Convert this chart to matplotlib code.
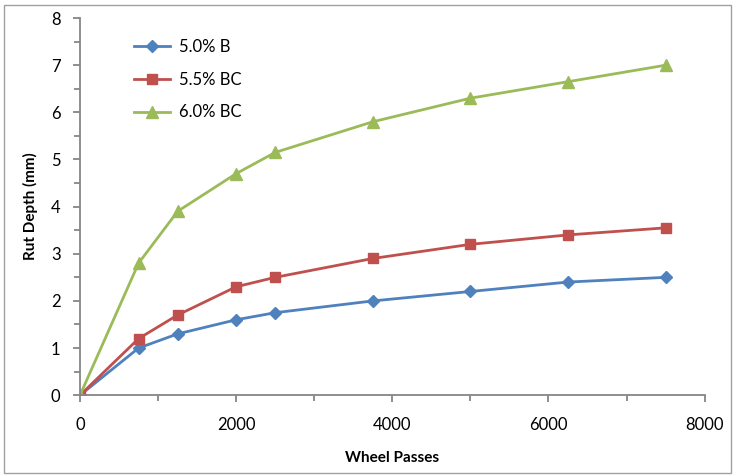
import numpy as np
import matplotlib.pyplot as plt
from matplotlib.patches import Rectangle
from matplotlib.ticker import MultipleLocator

plt.rcParams['font.family'] = ['Lato', 'DejaVu Sans']

passes = [0, 750, 1250, 2000, 2500, 3750, 5000, 6250, 7500]
rut_50b = [0, 1.0, 1.3, 1.6, 1.75, 2.0, 2.2, 2.4, 2.5]
rut_55bc = [0, 1.2, 1.7, 2.3, 2.5, 2.9, 3.2, 3.4, 3.55]
rut_60bc = [0, 2.8, 3.9, 4.7, 5.15, 5.8, 6.3, 6.65, 7.0]
labels = ['5.0% B', '5.5% BC', '6.0% BC']

fig = plt.figure(figsize=(7.34, 4.75), dpi=100)
ax = fig.add_axes([0.109, 0.168, 0.851, 0.794])

ax.plot(passes, rut_50b, color='#4F81BD', lw=2, marker='D', ms=6, label=labels[0])
ax.plot(passes, rut_55bc, color='#C0504D', lw=2, marker='s', ms=7, label=labels[1])
ax.plot(passes, rut_60bc, color='#9BBB59', lw=2, marker='^', ms=8, label=labels[2])

ax.set_xlim(0, 8000)
ax.set_ylim(0, 8)
ax.xaxis.set_major_locator(MultipleLocator(2000))
ax.xaxis.set_minor_locator(MultipleLocator(1000))
ax.yaxis.set_major_locator(MultipleLocator(1))
ax.yaxis.set_minor_locator(MultipleLocator(0.5))
for s in ['top', 'right']:
    ax.spines[s].set_visible(False)
for s in ['left', 'bottom']:
    ax.spines[s].set_color('#868686')
    ax.spines[s].set_linewidth(1.3)
ax.tick_params(which='both', color='#868686', width=1.3, labelsize=12)
ax.tick_params(which='major', length=5)
ax.tick_params(which='minor', length=4)
ax.tick_params(axis='x', pad=11)
ax.tick_params(axis='y', pad=9)

ax.set_xlabel('Wheel Passes', fontweight='bold', fontsize=11, labelpad=13)
ax.set_ylabel('Rut Depth (mm)', fontweight='bold', fontsize=11, labelpad=9)

ax.legend(loc='upper left', bbox_to_anchor=(0.075, 0.962), frameon=False,
          fontsize=12, handlelength=2.2, handletextpad=0.5,
          labelspacing=1.0, borderaxespad=0)

fig.patches.append(Rectangle((0.006, 0.004), 0.99, 0.986, transform=fig.transFigure,
                             fill=False, edgecolor='#A0A0A0', lw=1))

fig.savefig('out.png', dpi=100)
